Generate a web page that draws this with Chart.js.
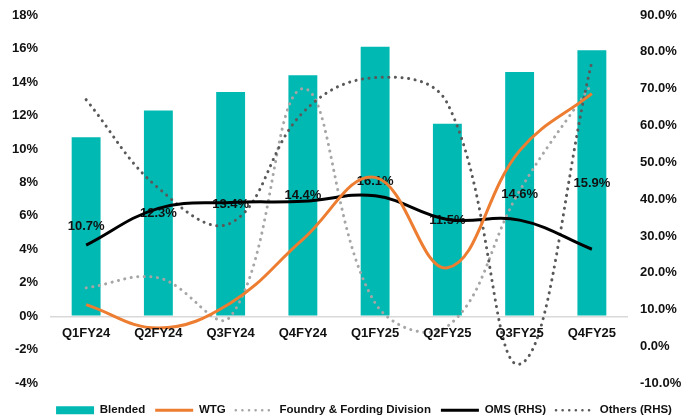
<!DOCTYPE html>
<html>
<head>
<meta charset="utf-8">
<script src="https://cdn.jsdelivr.net/npm/chart.js@4.4.1/dist/chart.umd.min.js"></script>
<style>
  html, body { margin: 0; padding: 0; background: #fff; }
  #wrap { width: 692px; height: 417px; }
</style>
</head>
<body>
<div id="wrap"><canvas id="marginChart" width="692" height="417"></canvas></div>
<script>
const quarters = ['Q1FY24', 'Q2FY24', 'Q3FY24', 'Q4FY24', 'Q1FY25', 'Q2FY25', 'Q3FY25', 'Q4FY25'];
const blended = [10.7, 12.3, 13.4, 14.4, 16.1, 11.5, 14.6, 15.9];
const wtg = [0.7, -0.7, 0.8, 4.6, 8.3, 2.9, 9.9, 13.3];
const foundry = [1.7, 2.3, 0.0, 13.6, 0.8, -0.6, 7.5, 13.9];
const oms = [27.5, 37.5, 39.1, 39.4, 40.9, 34.5, 34.3, 26.4];
const others = [67, 43, 33.5, 63.5, 73, 66, -4.8, 77.3];

const FONT = "'Liberation Sans', Arial, sans-serif";

// category labels sit on the 0% line, bar values in the middle of each bar
const xLabelsOnZero = {
    id: 'xLabelsOnZero',
    afterLayout(chart) {
        // legend in the original sits a little right of centre
        chart.legend.left += 18;
        chart.legend.right += 18;
    },
    afterDatasetDraw(chart, args) {
        if (args.index !== 0) return;
        const ctx = chart.ctx;
        const meta = chart.getDatasetMeta(0);
        const y = chart.scales.y;
        ctx.save();
        ctx.font = 'bold 13px ' + FONT;
        ctx.fillStyle = '#111';
        ctx.textAlign = 'center';
        ctx.textBaseline = 'middle';
        meta.data.forEach((bar, i) => {
            ctx.fillText(blended[i].toFixed(1) + '%', bar.x, y.getPixelForValue(blended[i] / 2));
        });
        ctx.restore();
    },
    afterDraw(chart) {
        const ctx = chart.ctx;
        const x = chart.scales.x;
        const zeroY = chart.scales.y.getPixelForValue(0);
        ctx.save();
        ctx.font = 'bold 13px ' + FONT;
        ctx.fillStyle = '#111';
        ctx.textAlign = 'center';
        ctx.textBaseline = 'middle';
        quarters.forEach((q, i) => {
            ctx.fillText(q, x.getPixelForValue(i), zeroY + 17);
        });
        ctx.restore();
    }
};

const dotted = (color) => ({
    borderColor: color,
    backgroundColor: color,
    borderWidth: 3,
    borderDash: [0.1, 6.5],
    borderCapStyle: 'round',
    pointRadius: 0,
    tension: 0.4,
    fill: false
});

const trimPad = (scale, w) => {
    scale.width = w;
    scale.paddingTop = 8;
    scale.paddingBottom = 8;
};

const ctx = document.getElementById('marginChart').getContext('2d');
const marginChart = new Chart(ctx, {
    type: 'bar',
    data: {
        labels: quarters,
        datasets: [
            {
                type: 'bar',
                label: 'Blended',
                data: blended,
                backgroundColor: '#00B9B2',
                borderColor: '#00B9B2',
                borderWidth: 0,
                barPercentage: 0.4,
                categoryPercentage: 1,
                yAxisID: 'y',
                order: 10
            },
            {
                type: 'line',
                label: 'WTG',
                data: wtg,
                borderColor: '#ED7D31',
                backgroundColor: '#ED7D31',
                borderWidth: 3,
                pointRadius: 0,
                tension: 0.4,
                yAxisID: 'y',
                order: 1
            },
            Object.assign({
                type: 'line',
                label: 'Foundry & Fording Division',
                data: foundry,
                yAxisID: 'y',
                order: 4
            }, dotted('#A6A6A6')),
            {
                type: 'line',
                label: 'OMS (RHS)',
                data: oms,
                borderColor: '#000',
                backgroundColor: '#000',
                borderWidth: 3,
                pointRadius: 0,
                tension: 0.4,
                yAxisID: 'y1',
                order: 2
            },
            Object.assign({
                type: 'line',
                label: 'Others (RHS)',
                data: others,
                yAxisID: 'y1',
                order: 3
            }, dotted('#595959'))
        ]
    },
    options: {
        responsive: false,
        maintainAspectRatio: false,
        animation: false,
        layout: { padding: { top: 15, bottom: -9, left: 0, right: 0 } },
        plugins: {
            legend: {
                position: 'bottom',
                title: { display: true, text: ' ', font: { size: 1 }, padding: { top: 0, bottom: 10 } },
                labels: {
                    usePointStyle: true,
                    pointStyleWidth: 38,
                    boxHeight: 8,
                    padding: 10,
                    color: '#111',
                    font: { family: FONT, size: 11.5, weight: 'bold' },
                    generateLabels: (chart) => chart.data.datasets.map((ds, i) => ({
                        text: ds.label,
                        datasetIndex: i,
                        fillStyle: ds.type === 'bar' ? ds.backgroundColor : 'transparent',
                        strokeStyle: ds.borderColor,
                        lineWidth: ds.type === 'bar' ? 0 : (ds.borderDash ? 2.5 : 3),
                        lineDash: ds.borderDash || [],
                        lineCap: ds.borderCapStyle || 'butt',
                        pointStyle: ds.type === 'bar' ? 'rect' : 'line',
                        fontColor: '#111',
                        hidden: false
                    }))
                }
            },
            tooltip: { enabled: false }
        },
        scales: {
            x: { display: false },
            y: {
                position: 'left',
                min: -4,
                max: 18,
                afterFit: (scale) => trimPad(scale, 50),
                border: { display: false },
                grid: {
                    drawTicks: false,
                    color: (c) => c.tick && c.tick.value === 0 ? '#D9D9D9' : 'transparent',
                    lineWidth: 1.5
                },
                ticks: {
                    stepSize: 2,
                    padding: 12,
                    color: '#111',
                    font: { family: FONT, size: 13, weight: 'bold' },
                    callback: (v) => v + '%'
                }
            },
            y1: {
                position: 'right',
                min: -10,
                max: 90,
                afterFit: (scale) => trimPad(scale, 64),
                border: { display: false },
                grid: { display: false, drawTicks: false },
                ticks: {
                    stepSize: 10,
                    padding: 12,
                    color: '#111',
                    font: { family: FONT, size: 13, weight: 'bold' },
                    callback: (v) => v.toFixed(1) + '%'
                }
            }
        }
    },
    plugins: [xLabelsOnZero]
});
</script>
</body>
</html>
